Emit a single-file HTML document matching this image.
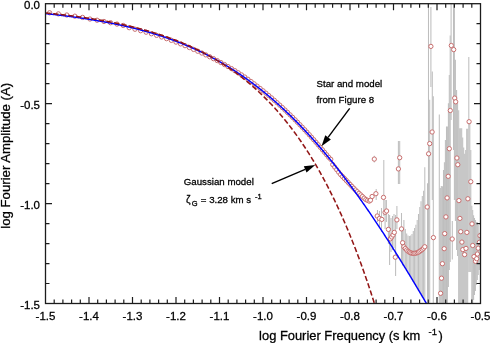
<!DOCTYPE html><html><head><meta charset="utf-8"><style>html,body{margin:0;padding:0;background:#fff;}svg{display:block;will-change:transform;} text{font-family:"Liberation Sans",sans-serif;fill:#000;stroke:#000;stroke-width:0.28px;}</style></head><body>
<svg width="490" height="343" viewBox="0 0 490 343">
<rect width="490" height="343" fill="#fff"/>
<defs><clipPath id="pc"><rect x="45.5" y="3.7" width="435.0" height="299.8"/></clipPath></defs>
<g clip-path="url(#pc)" stroke="#bebebe" stroke-width="1.05">
<line x1="374.3" y1="155.8" x2="374.3" y2="162.6"/>
<line x1="376.2" y1="189.0" x2="376.2" y2="200.0"/>
<line x1="377.5" y1="210.0" x2="377.5" y2="222.0"/>
<line x1="379.5" y1="211.0" x2="379.5" y2="228.0"/>
<line x1="381.5" y1="208.0" x2="381.5" y2="232.0"/>
<line x1="383.8" y1="160.0" x2="383.8" y2="216.0"/>
<line x1="385.1" y1="200.0" x2="385.1" y2="229.0"/>
<line x1="386.4" y1="200.0" x2="386.4" y2="222.0"/>
<line x1="388.4" y1="214.0" x2="388.4" y2="244.0"/>
<line x1="389.6" y1="215.0" x2="389.6" y2="265.0"/>
<line x1="391.0" y1="218.0" x2="391.0" y2="252.0"/>
<line x1="392.5" y1="216.0" x2="392.5" y2="250.0"/>
<line x1="394.0" y1="214.0" x2="394.0" y2="248.0"/>
<line x1="395.6" y1="215.0" x2="395.6" y2="276.0"/>
<line x1="396.9" y1="206.0" x2="396.9" y2="229.0"/>
<line x1="398.4" y1="141.0" x2="398.4" y2="184.0"/>
<line x1="399.7" y1="141.0" x2="399.7" y2="184.0"/>
<line x1="401.5" y1="213.0" x2="401.5" y2="262.0"/>
<line x1="402.6" y1="227.0" x2="402.6" y2="265.5"/>
<line x1="403.9" y1="220.1" x2="403.9" y2="265.8"/>
<line x1="405.3" y1="229.0" x2="405.3" y2="268.1"/>
<line x1="406.7" y1="233.4" x2="406.7" y2="270.3"/>
<line x1="408.0" y1="235.5" x2="408.0" y2="272.5"/>
<line x1="409.4" y1="236.0" x2="409.4" y2="274.8"/>
<line x1="410.7" y1="235.5" x2="410.7" y2="277.0"/>
<line x1="412.0" y1="234.0" x2="412.0" y2="279.2"/>
<line x1="413.3" y1="231.1" x2="413.3" y2="281.4"/>
<line x1="414.6" y1="228.1" x2="414.6" y2="283.5"/>
<line x1="415.9" y1="224.7" x2="415.9" y2="285.7"/>
<line x1="417.2" y1="219.9" x2="417.2" y2="287.9"/>
<line x1="418.5" y1="213.9" x2="418.5" y2="290.0"/>
<line x1="419.8" y1="207.1" x2="419.8" y2="292.2"/>
<line x1="421.0" y1="201.2" x2="421.0" y2="294.3"/>
<line x1="422.3" y1="196.0" x2="422.3" y2="296.5"/>
<line x1="423.6" y1="190.7" x2="423.6" y2="298.6"/>
<line x1="424.8" y1="167.2" x2="424.8" y2="300.7"/>
<line x1="427.5" y1="183.3" x2="427.5" y2="303.5"/>
<line x1="428.5" y1="4.7" x2="428.5" y2="303.5"/>
<line x1="429.7" y1="99.8" x2="429.7" y2="303.5"/>
<line x1="430.9" y1="7.0" x2="430.9" y2="87.0"/>
<line x1="432.3" y1="71.5" x2="432.3" y2="200.0"/>
<line x1="433.3" y1="96.3" x2="433.3" y2="303.5"/>
<line x1="439.3" y1="114.4" x2="439.3" y2="303.5"/>
<line x1="440.3" y1="188.0" x2="440.3" y2="303.5"/>
<line x1="441.3" y1="186.0" x2="441.3" y2="303.5"/>
<line x1="442.4" y1="186.2" x2="442.4" y2="303.5"/>
<line x1="443.5" y1="170.0" x2="443.5" y2="303.5"/>
<line x1="444.4" y1="162.3" x2="444.4" y2="303.5"/>
<line x1="445.4" y1="140.0" x2="445.4" y2="303.5"/>
<line x1="446.5" y1="126.4" x2="446.5" y2="303.5"/>
<line x1="447.4" y1="126.4" x2="447.4" y2="303.5"/>
<line x1="448.4" y1="103.3" x2="448.4" y2="287.0"/>
<line x1="449.3" y1="74.9" x2="449.3" y2="270.0"/>
<line x1="450.2" y1="35.5" x2="450.2" y2="262.0"/>
<line x1="451.1" y1="4.0" x2="451.1" y2="120.0"/>
<line x1="452.3" y1="221.0" x2="452.3" y2="259.6"/>
<line x1="453.5" y1="4.0" x2="453.5" y2="150.0"/>
<line x1="454.4" y1="4.0" x2="454.4" y2="200.0"/>
<line x1="455.4" y1="59.8" x2="455.4" y2="221.0"/>
<line x1="456.6" y1="89.9" x2="456.6" y2="250.0"/>
<line x1="457.6" y1="103.3" x2="457.6" y2="256.0"/>
<line x1="458.7" y1="110.3" x2="458.7" y2="303.5"/>
<line x1="459.7" y1="128.2" x2="459.7" y2="303.5"/>
<line x1="460.7" y1="128.2" x2="460.7" y2="303.5"/>
<line x1="461.7" y1="128.2" x2="461.7" y2="303.5"/>
<line x1="462.7" y1="137.5" x2="462.7" y2="303.5"/>
<line x1="463.7" y1="147.4" x2="463.7" y2="303.5"/>
<line x1="464.7" y1="153.8" x2="464.7" y2="303.5"/>
<line x1="465.7" y1="150.0" x2="465.7" y2="303.5"/>
<line x1="466.7" y1="128.7" x2="466.7" y2="303.5"/>
<line x1="467.7" y1="128.7" x2="467.7" y2="303.5"/>
<line x1="468.8" y1="56.9" x2="468.8" y2="272.0"/>
<line x1="469.8" y1="120.0" x2="469.8" y2="272.0"/>
<line x1="470.8" y1="150.0" x2="470.8" y2="272.0"/>
<line x1="471.8" y1="205.8" x2="471.8" y2="303.5"/>
<line x1="472.7" y1="210.0" x2="472.7" y2="303.5"/>
<line x1="473.6" y1="215.2" x2="473.6" y2="300.0"/>
<line x1="474.5" y1="218.0" x2="474.5" y2="295.0"/>
<line x1="475.4" y1="220.0" x2="475.4" y2="291.0"/>
<line x1="476.3" y1="222.0" x2="476.3" y2="285.0"/>
<line x1="477.3" y1="222.0" x2="477.3" y2="280.0"/>
<line x1="478.2" y1="225.0" x2="478.2" y2="275.0"/>
<line x1="479.1" y1="232.7" x2="479.1" y2="270.0"/>
</g>
<g clip-path="url(#pc)" fill="#fff" stroke="#c86f6f" stroke-width="1.0">
<circle cx="49.61" cy="12.78" r="2.15"/>
<circle cx="58.40" cy="13.88" r="2.15"/>
<circle cx="66.80" cy="15.01" r="2.15"/>
<circle cx="74.84" cy="16.18" r="2.15"/>
<circle cx="82.55" cy="17.40" r="2.15"/>
<circle cx="89.96" cy="19.01" r="2.15"/>
<circle cx="97.09" cy="20.22" r="2.15"/>
<circle cx="103.96" cy="21.47" r="2.15"/>
<circle cx="110.59" cy="22.75" r="2.15"/>
<circle cx="117.00" cy="24.06" r="2.15"/>
<circle cx="123.19" cy="25.45" r="2.15"/>
<circle cx="129.19" cy="27.68" r="2.15"/>
<circle cx="135.00" cy="29.23" r="2.15"/>
<circle cx="140.64" cy="30.70" r="2.15"/>
<circle cx="146.12" cy="32.21" r="2.15"/>
<circle cx="151.44" cy="33.77" r="2.15"/>
<circle cx="156.62" cy="35.36" r="2.15"/>
<circle cx="161.65" cy="36.99" r="2.15"/>
<circle cx="166.56" cy="38.65" r="2.15"/>
<circle cx="171.34" cy="40.36" r="2.15"/>
<circle cx="176.01" cy="42.10" r="2.15"/>
<circle cx="180.56" cy="43.88" r="2.15"/>
<circle cx="185.01" cy="45.69" r="2.15"/>
<circle cx="189.35" cy="47.54" r="2.15"/>
<circle cx="193.60" cy="49.42" r="2.15"/>
<circle cx="197.75" cy="51.24" r="2.15"/>
<circle cx="201.81" cy="53.05" r="2.15"/>
<circle cx="205.79" cy="54.89" r="2.15"/>
<circle cx="209.68" cy="56.76" r="2.15"/>
<circle cx="213.50" cy="58.67" r="2.15"/>
<circle cx="217.24" cy="60.60" r="2.15"/>
<circle cx="220.91" cy="62.57" r="2.15"/>
<circle cx="224.51" cy="64.56" r="2.15"/>
<circle cx="228.04" cy="66.58" r="2.15"/>
<circle cx="231.51" cy="68.62" r="2.15"/>
<circle cx="234.91" cy="70.69" r="2.15"/>
<circle cx="238.25" cy="72.79" r="2.15"/>
<circle cx="241.54" cy="74.90" r="2.15"/>
<circle cx="244.77" cy="77.04" r="2.15"/>
<circle cx="247.94" cy="79.29" r="2.15"/>
<circle cx="251.07" cy="81.57" r="2.15"/>
<circle cx="254.14" cy="83.86" r="2.15"/>
<circle cx="257.16" cy="86.17" r="2.15"/>
<circle cx="260.14" cy="88.50" r="2.15"/>
<circle cx="263.07" cy="90.84" r="2.15"/>
<circle cx="265.95" cy="93.19" r="2.15"/>
<circle cx="268.79" cy="95.56" r="2.15"/>
<circle cx="271.59" cy="97.94" r="2.15"/>
<circle cx="274.35" cy="100.34" r="2.15"/>
<circle cx="277.07" cy="102.74" r="2.15"/>
<circle cx="279.75" cy="105.15" r="2.15"/>
<circle cx="282.39" cy="107.58" r="2.15"/>
<circle cx="284.99" cy="110.01" r="2.15"/>
<circle cx="287.56" cy="112.45" r="2.15"/>
<circle cx="290.10" cy="114.90" r="2.15"/>
<circle cx="292.60" cy="117.35" r="2.15"/>
<circle cx="295.07" cy="119.82" r="2.15"/>
<circle cx="297.51" cy="122.29" r="2.15"/>
<circle cx="299.92" cy="124.76" r="2.15"/>
<circle cx="302.29" cy="127.25" r="2.15"/>
<circle cx="304.64" cy="129.75" r="2.15"/>
<circle cx="306.96" cy="132.24" r="2.15"/>
<circle cx="309.25" cy="134.75" r="2.15"/>
<circle cx="311.51" cy="137.25" r="2.15"/>
<circle cx="313.75" cy="139.76" r="2.15"/>
<circle cx="315.96" cy="142.27" r="2.15"/>
<circle cx="318.14" cy="144.78" r="2.15"/>
<circle cx="320.30" cy="147.29" r="2.15"/>
<circle cx="322.43" cy="149.80" r="2.15"/>
<circle cx="324.54" cy="152.32" r="2.15"/>
<circle cx="326.63" cy="154.83" r="2.15"/>
<circle cx="328.70" cy="157.34" r="2.15"/>
<circle cx="330.74" cy="159.30" r="2.15"/>
<circle cx="332.76" cy="164.57" r="2.15"/>
<circle cx="334.76" cy="167.14" r="2.15"/>
<circle cx="336.74" cy="169.69" r="2.15"/>
<circle cx="338.69" cy="172.22" r="2.15"/>
<circle cx="340.63" cy="174.56" r="2.15"/>
<circle cx="342.55" cy="176.57" r="2.15"/>
<circle cx="344.45" cy="178.56" r="2.15"/>
<circle cx="346.33" cy="180.53" r="2.15"/>
<circle cx="348.19" cy="182.48" r="2.15"/>
<circle cx="350.03" cy="184.41" r="2.15"/>
<circle cx="351.86" cy="186.33" r="2.15"/>
<circle cx="353.67" cy="188.22" r="2.15"/>
<circle cx="355.46" cy="190.00" r="2.15"/>
<circle cx="357.23" cy="191.66" r="2.15"/>
<circle cx="358.99" cy="193.31" r="2.15"/>
<circle cx="360.73" cy="194.94" r="2.15"/>
<circle cx="362.45" cy="196.55" r="2.15"/>
<circle cx="364.16" cy="198.15" r="2.15"/>
<circle cx="365.86" cy="199.56" r="2.15"/>
<circle cx="367.54" cy="200.34" r="2.15"/>
<circle cx="369.20" cy="201.10" r="2.15"/>
<circle cx="370.50" cy="200.20" r="2.15"/>
<circle cx="372.10" cy="196.50" r="2.15"/>
<circle cx="374.30" cy="159.10" r="2.15"/>
<circle cx="375.90" cy="193.70" r="2.15"/>
<circle cx="377.20" cy="216.00" r="2.15"/>
<circle cx="379.40" cy="218.50" r="2.15"/>
<circle cx="381.80" cy="219.40" r="2.15"/>
<circle cx="383.50" cy="197.40" r="2.15"/>
<circle cx="385.10" cy="212.30" r="2.15"/>
<circle cx="386.60" cy="211.00" r="2.15"/>
<circle cx="388.40" cy="229.40" r="2.15"/>
<circle cx="390.40" cy="238.80" r="2.15"/>
<circle cx="391.70" cy="237.00" r="2.15"/>
<circle cx="393.00" cy="235.00" r="2.15"/>
<circle cx="394.30" cy="232.40" r="2.15"/>
<circle cx="395.30" cy="257.20" r="2.15"/>
<circle cx="396.90" cy="219.90" r="2.15"/>
<circle cx="398.40" cy="168.90" r="2.15"/>
<circle cx="399.70" cy="157.70" r="2.15"/>
<circle cx="401.50" cy="228.90" r="2.15"/>
<circle cx="402.60" cy="242.70" r="2.15"/>
<circle cx="403.92" cy="246.80" r="2.15"/>
<circle cx="405.30" cy="248.55" r="2.15"/>
<circle cx="406.66" cy="250.03" r="2.15"/>
<circle cx="408.01" cy="251.23" r="2.15"/>
<circle cx="409.36" cy="252.17" r="2.15"/>
<circle cx="410.69" cy="252.83" r="2.15"/>
<circle cx="412.02" cy="253.24" r="2.15"/>
<circle cx="413.34" cy="253.40" r="2.15"/>
<circle cx="414.64" cy="253.33" r="2.15"/>
<circle cx="415.94" cy="253.09" r="2.15"/>
<circle cx="417.23" cy="252.68" r="2.15"/>
<circle cx="418.51" cy="252.09" r="2.15"/>
<circle cx="419.78" cy="251.35" r="2.15"/>
<circle cx="421.05" cy="250.44" r="2.15"/>
<circle cx="422.30" cy="249.37" r="2.15"/>
<circle cx="423.55" cy="248.15" r="2.15"/>
<circle cx="424.79" cy="246.77" r="2.15"/>
<circle cx="427.20" cy="207.00" r="2.15"/>
<circle cx="428.60" cy="153.80" r="2.15"/>
<circle cx="429.70" cy="143.60" r="2.15"/>
<circle cx="430.90" cy="46.40" r="2.15"/>
<circle cx="432.10" cy="132.00" r="2.15"/>
<circle cx="433.40" cy="237.60" r="2.15"/>
<circle cx="440.60" cy="293.30" r="2.15"/>
<circle cx="441.50" cy="278.20" r="2.15"/>
<circle cx="442.40" cy="263.70" r="2.15"/>
<circle cx="444.20" cy="248.70" r="2.15"/>
<circle cx="444.70" cy="233.60" r="2.15"/>
<circle cx="445.90" cy="216.90" r="2.15"/>
<circle cx="447.10" cy="197.90" r="2.15"/>
<circle cx="448.20" cy="176.30" r="2.15"/>
<circle cx="449.30" cy="148.70" r="2.15"/>
<circle cx="450.30" cy="110.50" r="2.15"/>
<circle cx="451.30" cy="45.50" r="2.15"/>
<circle cx="452.20" cy="239.00" r="2.15"/>
<circle cx="453.70" cy="49.60" r="2.15"/>
<circle cx="454.70" cy="98.10" r="2.15"/>
<circle cx="455.70" cy="101.80" r="2.15"/>
<circle cx="456.90" cy="158.00" r="2.15"/>
<circle cx="457.80" cy="164.70" r="2.15"/>
<circle cx="458.90" cy="200.60" r="2.15"/>
<circle cx="459.90" cy="218.40" r="2.15"/>
<circle cx="460.70" cy="231.70" r="2.15"/>
<circle cx="461.90" cy="242.10" r="2.15"/>
<circle cx="462.80" cy="249.60" r="2.15"/>
<circle cx="464.60" cy="254.60" r="2.15"/>
<circle cx="466.00" cy="248.40" r="2.15"/>
<circle cx="466.90" cy="232.40" r="2.15"/>
<circle cx="467.90" cy="198.80" r="2.15"/>
<circle cx="469.10" cy="121.70" r="2.15"/>
<circle cx="470.80" cy="181.70" r="2.15"/>
<circle cx="472.00" cy="223.90" r="2.15"/>
<circle cx="472.70" cy="245.50" r="2.15"/>
<circle cx="474.00" cy="256.60" r="2.15"/>
<circle cx="475.50" cy="261.30" r="2.15"/>
<circle cx="476.70" cy="258.70" r="2.15"/>
<circle cx="477.40" cy="254.00" r="2.15"/>
<circle cx="478.20" cy="248.20" r="2.15"/>
<circle cx="479.40" cy="242.30" r="2.15"/>
<circle cx="480.00" cy="235.70" r="2.15"/>
</g>
<path clip-path="url(#pc)" d="M45.50,13.60 L46.00,13.65 L46.50,13.70 L47.00,13.75 L47.50,13.81 L48.00,13.86 L48.50,13.91 L49.00,13.97 L49.50,14.02 L50.00,14.08 L50.50,14.13 L51.00,14.19 L51.50,14.24 L52.00,14.30 L52.50,14.35 L53.00,14.41 L53.50,14.47 L54.00,14.52 L54.50,14.58 L55.00,14.64 L55.50,14.70 L56.00,14.75 L56.50,14.81 L57.00,14.87 L57.50,14.93 L58.00,14.99 L58.50,15.05 L59.00,15.11 L59.50,15.17 L60.00,15.23 L60.50,15.29 L61.00,15.35 L61.50,15.41 L62.00,15.47 L62.50,15.53 L63.00,15.60 L63.50,15.66 L64.00,15.72 L64.50,15.78 L65.00,15.85 L65.50,15.91 L66.00,15.97 L66.50,16.04 L67.00,16.10 L67.50,16.17 L68.00,16.23 L68.50,16.30 L69.00,16.36 L69.50,16.43 L70.00,16.50 L70.50,16.56 L71.00,16.63 L71.50,16.70 L72.00,16.76 L72.50,16.83 L73.00,16.90 L73.50,16.97 L74.00,17.04 L74.50,17.11 L75.00,17.18 L75.50,17.25 L76.00,17.32 L76.50,17.39 L77.00,17.46 L77.50,17.53 L78.00,17.60 L78.50,17.67 L79.00,17.74 L79.50,17.82 L80.00,17.89 L80.50,17.96 L81.00,18.04 L81.50,18.11 L82.00,18.19 L82.50,18.26 L83.00,18.33 L83.50,18.41 L84.00,18.49 L84.50,18.56 L85.00,18.64 L85.50,18.72 L86.00,18.79 L86.50,18.87 L87.00,18.95 L87.50,19.03 L88.00,19.10 L88.50,19.18 L89.00,19.26 L89.50,19.34 L90.00,19.42 L90.50,19.50 L91.00,19.58 L91.50,19.67 L92.00,19.75 L92.50,19.83 L93.00,19.91 L93.50,19.99 L94.00,20.08 L94.50,20.16 L95.00,20.25 L95.50,20.33 L96.00,20.42 L96.50,20.50 L97.00,20.59 L97.50,20.67 L98.00,20.76 L98.50,20.85 L99.00,20.93 L99.50,21.02 L100.00,21.11 L100.50,21.20 L101.00,21.29 L101.50,21.38 L102.00,21.47 L102.50,21.56 L103.00,21.65 L103.50,21.74 L104.00,21.83 L104.50,21.92 L105.00,22.02 L105.50,22.11 L106.00,22.20 L106.50,22.30 L107.00,22.39 L107.50,22.49 L108.00,22.58 L108.50,22.68 L109.00,22.77 L109.50,22.87 L110.00,22.97 L110.50,23.07 L111.00,23.16 L111.50,23.26 L112.00,23.36 L112.50,23.46 L113.00,23.56 L113.50,23.66 L114.00,23.76 L114.50,23.87 L115.00,23.97 L115.50,24.07 L116.00,24.17 L116.50,24.28 L117.00,24.38 L117.50,24.49 L118.00,24.59 L118.50,24.70 L119.00,24.81 L119.50,24.91 L120.00,25.02 L120.50,25.13 L121.00,25.24 L121.50,25.35 L122.00,25.46 L122.50,25.57 L123.00,25.68 L123.50,25.79 L124.00,25.90 L124.50,26.01 L125.00,26.13 L125.50,26.24 L126.00,26.35 L126.50,26.47 L127.00,26.58 L127.50,26.70 L128.00,26.82 L128.50,26.93 L129.00,27.05 L129.50,27.17 L130.00,27.29 L130.50,27.41 L131.00,27.53 L131.50,27.65 L132.00,27.77 L132.50,27.89 L133.00,28.02 L133.50,28.14 L134.00,28.26 L134.50,28.39 L135.00,28.51 L135.50,28.64 L136.00,28.76 L136.50,28.89 L137.00,29.02 L137.50,29.15 L138.00,29.28 L138.50,29.41 L139.00,29.54 L139.50,29.67 L140.00,29.80 L140.50,29.93 L141.00,30.06 L141.50,30.20 L142.00,30.33 L142.50,30.47 L143.00,30.60 L143.50,30.74 L144.00,30.88 L144.50,31.01 L145.00,31.15 L145.50,31.29 L146.00,31.43 L146.50,31.57 L147.00,31.71 L147.50,31.86 L148.00,32.00 L148.50,32.14 L149.00,32.29 L149.50,32.43 L150.00,32.58 L150.50,32.72 L151.00,32.87 L151.50,33.02 L152.00,33.17 L152.50,33.32 L153.00,33.47 L153.50,33.62 L154.00,33.77 L154.50,33.92 L155.00,34.08 L155.50,34.23 L156.00,34.38 L156.50,34.54 L157.00,34.70 L157.50,34.85 L158.00,35.01 L158.50,35.17 L159.00,35.33 L159.50,35.49 L160.00,35.65 L160.50,35.81 L161.00,35.98 L161.50,36.14 L162.00,36.30 L162.50,36.47 L163.00,36.63 L163.50,36.80 L164.00,36.97 L164.50,37.14 L165.00,37.31 L165.50,37.48 L166.00,37.65 L166.50,37.82 L167.00,37.99 L167.50,38.17 L168.00,38.34 L168.50,38.52 L169.00,38.69 L169.50,38.87 L170.00,39.05 L170.50,39.23 L171.00,39.41 L171.50,39.59 L172.00,39.77 L172.50,39.95 L173.00,40.14 L173.50,40.32 L174.00,40.51 L174.50,40.69 L175.00,40.88 L175.50,41.07 L176.00,41.26 L176.50,41.45 L177.00,41.64 L177.50,41.83 L178.00,42.02 L178.50,42.21 L179.00,42.41 L179.50,42.60 L180.00,42.80 L180.50,43.00 L181.00,43.20 L181.50,43.40 L182.00,43.60 L182.50,43.80 L183.00,44.00 L183.50,44.20 L184.00,44.41 L184.50,44.61 L185.00,44.82 L185.50,45.02 L186.00,45.23 L186.50,45.44 L187.00,45.65 L187.50,45.86 L188.00,46.08 L188.50,46.29 L189.00,46.50 L189.50,46.72 L190.00,46.93 L190.50,47.15 L191.00,47.37 L191.50,47.59 L192.00,47.81 L192.50,48.03 L193.00,48.25 L193.50,48.48 L194.00,48.70 L194.50,48.93 L195.00,49.15 L195.50,49.38 L196.00,49.61 L196.50,49.84 L197.00,50.07 L197.50,50.30 L198.00,50.54 L198.50,50.77 L199.00,51.01 L199.50,51.24 L200.00,51.48 L200.50,51.72 L201.00,51.96 L201.50,52.20 L202.00,52.44 L202.50,52.69 L203.00,52.93 L203.50,53.17 L204.00,53.42 L204.50,53.67 L205.00,53.92 L205.50,54.17 L206.00,54.42 L206.50,54.67 L207.00,54.92 L207.50,55.18 L208.00,55.43 L208.50,55.69 L209.00,55.95 L209.50,56.21 L210.00,56.47 L210.50,56.73 L211.00,56.99 L211.50,57.26 L212.00,57.52 L212.50,57.79 L213.00,58.05 L213.50,58.32 L214.00,58.59 L214.50,58.86 L215.00,59.14 L215.50,59.41 L216.00,59.68 L216.50,59.96 L217.00,60.24 L217.50,60.52 L218.00,60.79 L218.50,61.08 L219.00,61.36 L219.50,61.64 L220.00,61.92 L220.50,62.21 L221.00,62.50 L221.50,62.79 L222.00,63.07 L222.50,63.37 L223.00,63.66 L223.50,63.95 L224.00,64.24 L224.50,64.54 L225.00,64.84 L225.50,65.14 L226.00,65.44 L226.50,65.74 L227.00,66.04 L227.50,66.34 L228.00,66.65 L228.50,66.95 L229.00,67.26 L229.50,67.57 L230.00,67.88 L230.50,68.19 L231.00,68.50 L231.50,68.82 L232.00,69.13 L232.50,69.45 L233.00,69.76 L233.50,70.08 L234.00,70.40 L234.50,70.73 L235.00,71.05 L235.50,71.37 L236.00,71.70 L236.50,72.03 L237.00,72.35 L237.50,72.68 L238.00,73.01 L238.50,73.35 L239.00,73.68 L239.50,74.02 L240.00,74.35 L240.50,74.69 L241.00,75.03 L241.50,75.37 L242.00,75.71 L242.50,76.06 L243.00,76.40 L243.50,76.75 L244.00,77.09 L244.50,77.44 L245.00,77.79 L245.50,78.15 L246.00,78.50 L246.50,78.85 L247.00,79.21 L247.50,79.57 L248.00,79.92 L248.50,80.29 L249.00,80.65 L249.50,81.01 L250.00,81.37 L250.50,81.74 L251.00,82.11 L251.50,82.48 L252.00,82.85 L252.50,83.22 L253.00,83.59 L253.50,83.96 L254.00,84.34 L254.50,84.72 L255.00,85.10 L255.50,85.48 L256.00,85.86 L256.50,86.24 L257.00,86.63 L257.50,87.01 L258.00,87.40 L258.50,87.79 L259.00,88.18 L259.50,88.57 L260.00,88.96 L260.50,89.36 L261.00,89.75 L261.50,90.15 L262.00,90.55 L262.50,90.95 L263.00,91.35 L263.50,91.76 L264.00,92.16 L264.50,92.57 L265.00,92.98 L265.50,93.39 L266.00,93.80 L266.50,94.21 L267.00,94.62 L267.50,95.04 L268.00,95.46 L268.50,95.87 L269.00,96.29 L269.50,96.72 L270.00,97.14 L270.50,97.56 L271.00,97.99 L271.50,98.42 L272.00,98.85 L272.50,99.28 L273.00,99.71 L273.50,100.14 L274.00,100.58 L274.50,101.01 L275.00,101.45 L275.50,101.89 L276.00,102.33 L276.50,102.78 L277.00,103.22 L277.50,103.67 L278.00,104.11 L278.50,104.56 L279.00,105.01 L279.50,105.47 L280.00,105.92 L280.50,106.38 L281.00,106.83 L281.50,107.29 L282.00,107.75 L282.50,108.21 L283.00,108.67 L283.50,109.14 L284.00,109.60 L284.50,110.07 L285.00,110.54 L285.50,111.01 L286.00,111.48 L286.50,111.96 L287.00,112.43 L287.50,112.91 L288.00,113.39 L288.50,113.87 L289.00,114.35 L289.50,114.83 L290.00,115.32 L290.50,115.81 L291.00,116.29 L291.50,116.78 L292.00,117.27 L292.50,117.77 L293.00,118.26 L293.50,118.76 L294.00,119.25 L294.50,119.75 L295.00,120.25 L295.50,120.76 L296.00,121.26 L296.50,121.77 L297.00,122.27 L297.50,122.78 L298.00,123.29 L298.50,123.80 L299.00,124.32 L299.50,124.83 L300.00,125.35 L300.50,125.86 L301.00,126.38 L301.50,126.91 L302.00,127.43 L302.50,127.95 L303.00,128.48 L303.50,129.01 L304.00,129.54 L304.50,130.07 L305.00,130.60 L305.50,131.13 L306.00,131.67 L306.50,132.21 L307.00,132.74 L307.50,133.28 L308.00,133.83 L308.50,134.37 L309.00,134.92 L309.50,135.46 L310.00,136.01 L310.50,136.56 L311.00,137.11 L311.50,137.66 L312.00,138.22 L312.50,138.78 L313.00,139.33 L313.50,139.89 L314.00,140.45 L314.50,141.02 L315.00,141.58 L315.50,142.15 L316.00,142.71 L316.50,143.28 L317.00,143.85 L317.50,144.43 L318.00,145.00 L318.50,145.58 L319.00,146.15 L319.50,146.73 L320.00,147.31 L320.50,147.89 L321.00,148.48 L321.50,149.06 L322.00,149.65 L322.50,150.24 L323.00,150.83 L323.50,151.42 L324.00,152.01 L324.50,152.61 L325.00,153.20 L325.50,153.80 L326.00,154.40 L326.50,155.00 L327.00,155.60 L327.50,156.21 L328.00,156.81 L328.50,157.42 L329.00,158.03 L329.50,158.64 L330.00,159.25 L330.50,159.86 L331.00,160.48 L331.50,161.10 L332.00,161.71 L332.50,162.33 L333.00,162.96 L333.50,163.58 L334.00,164.20 L334.50,164.83 L335.00,165.46 L335.50,166.09 L336.00,166.72 L336.50,167.35 L337.00,167.98 L337.50,168.62 L338.00,169.26 L338.50,169.89 L339.00,170.53 L339.50,171.18 L340.00,171.82 L340.50,172.46 L341.00,173.11 L341.50,173.76 L342.00,174.41 L342.50,175.06 L343.00,175.71 L343.50,176.37 L344.00,177.02 L344.50,177.68 L345.00,178.34 L345.50,179.00 L346.00,179.66 L346.50,180.32 L347.00,180.99 L347.50,181.65 L348.00,182.32 L348.50,182.99 L349.00,183.66 L349.50,184.33 L350.00,185.01 L350.50,185.68 L351.00,186.36 L351.50,187.04 L352.00,187.72 L352.50,188.40 L353.00,189.08 L353.50,189.77 L354.00,190.45 L354.50,191.14 L355.00,191.83 L355.50,192.52 L356.00,193.21 L356.50,193.91 L357.00,194.60 L357.50,195.30 L358.00,195.99 L358.50,196.69 L359.00,197.39 L359.50,198.10 L360.00,198.80 L360.50,199.51 L361.00,200.21 L361.50,200.92 L362.00,201.63 L362.50,202.34 L363.00,203.05 L363.50,203.77 L364.00,204.48 L364.50,205.20 L365.00,205.92 L365.50,206.64 L366.00,207.36 L366.50,208.08 L367.00,208.80 L367.50,209.53 L368.00,210.25 L368.50,210.98 L369.00,211.71 L369.50,212.44 L370.00,213.17 L370.50,213.91 L371.00,214.64 L371.50,215.38 L372.00,216.12 L372.50,216.85 L373.00,217.59 L373.50,218.34 L374.00,219.08 L374.50,219.82 L375.00,220.57 L375.50,221.32 L376.00,222.07 L376.50,222.81 L377.00,223.57 L377.50,224.32 L378.00,225.07 L378.50,225.83 L379.00,226.58 L379.50,227.34 L380.00,228.10 L380.50,228.86 L381.00,229.62 L381.50,230.38 L382.00,231.15 L382.50,231.91 L383.00,232.68 L383.50,233.45 L384.00,234.22 L384.50,234.99 L385.00,235.76 L385.50,236.53 L386.00,237.31 L386.50,238.08 L387.00,238.86 L387.50,239.64 L388.00,240.42 L388.50,241.20 L389.00,241.98 L389.50,242.76 L390.00,243.55 L390.50,244.33 L391.00,245.12 L391.50,245.90 L392.00,246.69 L392.50,247.48 L393.00,248.27 L393.50,249.07 L394.00,249.86 L394.50,250.65 L395.00,251.45 L395.50,252.25 L396.00,253.04 L396.50,253.84 L397.00,254.64 L397.50,255.45 L398.00,256.25 L398.50,257.05 L399.00,257.86 L399.50,258.66 L400.00,259.47 L400.50,260.28 L401.00,261.09 L401.50,261.90 L402.00,262.71 L402.50,263.52 L403.00,264.33 L403.50,265.15 L404.00,265.96 L404.50,266.78 L405.00,267.59 L405.50,268.41 L406.00,269.23 L406.50,270.05 L407.00,270.87 L407.50,271.70 L408.00,272.52 L408.50,273.34 L409.00,274.17 L409.50,274.99 L410.00,275.82 L410.50,276.65 L411.00,277.48 L411.50,278.31 L412.00,279.14 L412.50,279.97 L413.00,280.80 L413.50,281.64 L414.00,282.47 L414.50,283.31 L415.00,284.14 L415.50,284.98 L416.00,285.82 L416.50,286.66 L417.00,287.50 L417.50,288.34 L418.00,289.18 L418.50,290.02 L419.00,290.86 L419.50,291.71 L420.00,292.55 L420.50,293.40 L421.00,294.24 L421.50,295.09 L422.00,295.94 L422.50,296.78 L423.00,297.63 L423.50,298.48 L424.00,299.33 L424.50,300.18 L425.00,301.04 L425.50,301.89 L426.00,302.74 L426.44,303.50" fill="none" stroke="#0000ff" stroke-width="1.45"/>
<path clip-path="url(#pc)" d="M45.50,12.92 L46.00,12.97 L46.50,13.01 L47.00,13.06 L47.50,13.11 L48.00,13.16 L48.50,13.21 L49.00,13.26 L49.50,13.32 L50.00,13.37 L50.50,13.42 L51.00,13.47 L51.50,13.52 L52.00,13.57 L52.50,13.63 L53.00,13.68 L53.50,13.73 L54.00,13.78 L54.50,13.84 L55.00,13.89 L55.50,13.95 L56.00,14.00 L56.50,14.05 L57.00,14.11 L57.50,14.17 L58.00,14.22 L58.50,14.28 L59.00,14.33 L59.50,14.39 L60.00,14.45 L60.50,14.50 L61.00,14.56 L61.50,14.62 L62.00,14.68 L62.50,14.73 L63.00,14.79 L63.50,14.85 L64.00,14.91 L64.50,14.97 L65.00,15.03 L65.50,15.09 L66.00,15.15 L66.50,15.21 L67.00,15.27 L67.50,15.33 L68.00,15.40 L68.50,15.46 L69.00,15.52 L69.50,15.58 L70.00,15.65 L70.50,15.71 L71.00,15.77 L71.50,15.84 L72.00,15.90 L72.50,15.97 L73.00,16.03 L73.50,16.10 L74.00,16.16 L74.50,16.23 L75.00,16.30 L75.50,16.36 L76.00,16.43 L76.50,16.50 L77.00,16.56 L77.50,16.63 L78.00,16.70 L78.50,16.77 L79.00,16.84 L79.50,16.91 L80.00,16.98 L80.50,17.05 L81.00,17.12 L81.50,17.19 L82.00,17.26 L82.50,17.34 L83.00,17.41 L83.50,17.48 L84.00,17.55 L84.50,17.63 L85.00,17.70 L85.50,17.78 L86.00,17.85 L86.50,17.93 L87.00,18.00 L87.50,18.08 L88.00,18.15 L88.50,18.23 L89.00,18.31 L89.50,18.38 L90.00,18.46 L90.50,18.54 L91.00,18.62 L91.50,18.70 L92.00,18.78 L92.50,18.86 L93.00,18.94 L93.50,19.02 L94.00,19.10 L94.50,19.18 L95.00,19.27 L95.50,19.35 L96.00,19.43 L96.50,19.51 L97.00,19.60 L97.50,19.68 L98.00,19.77 L98.50,19.85 L99.00,19.94 L99.50,20.02 L100.00,20.11 L100.50,20.20 L101.00,20.29 L101.50,20.37 L102.00,20.46 L102.50,20.55 L103.00,20.64 L103.50,20.73 L104.00,20.82 L104.50,20.91 L105.00,21.00 L105.50,21.10 L106.00,21.19 L106.50,21.28 L107.00,21.37 L107.50,21.47 L108.00,21.56 L108.50,21.66 L109.00,21.75 L109.50,21.85 L110.00,21.94 L110.50,22.04 L111.00,22.14 L111.50,22.24 L112.00,22.33 L112.50,22.43 L113.00,22.53 L113.50,22.63 L114.00,22.73 L114.50,22.83 L115.00,22.94 L115.50,23.04 L116.00,23.14 L116.50,23.24 L117.00,23.35 L117.50,23.45 L118.00,23.56 L118.50,23.66 L119.00,23.77 L119.50,23.87 L120.00,23.98 L120.50,24.09 L121.00,24.20 L121.50,24.31 L122.00,24.42 L122.50,24.53 L123.00,24.64 L123.50,24.75 L124.00,24.86 L124.50,24.97 L125.00,25.08 L125.50,25.20 L126.00,25.31 L126.50,25.43 L127.00,25.54 L127.50,25.66 L128.00,25.77 L128.50,25.89 L129.00,26.01 L129.50,26.13 L130.00,26.25 L130.50,26.37 L131.00,26.49 L131.50,26.61 L132.00,26.73 L132.50,26.85 L133.00,26.97 L133.50,27.10 L134.00,27.22 L134.50,27.35 L135.00,27.47 L135.50,27.60 L136.00,27.73 L136.50,27.85 L137.00,27.98 L137.50,28.11 L138.00,28.24 L138.50,28.37 L139.00,28.50 L139.50,28.63 L140.00,28.76 L140.50,28.90 L141.00,29.03 L141.50,29.17 L142.00,29.30 L142.50,29.44 L143.00,29.57 L143.50,29.71 L144.00,29.85 L144.50,29.99 L145.00,30.13 L145.50,30.27 L146.00,30.41 L146.50,30.55 L147.00,30.69 L147.50,30.84 L148.00,30.98 L148.50,31.12 L149.00,31.27 L149.50,31.42 L150.00,31.56 L150.50,31.71 L151.00,31.86 L151.50,32.01 L152.00,32.16 L152.50,32.31 L153.00,32.46 L153.50,32.62 L154.00,32.77 L154.50,32.92 L155.00,33.08 L155.50,33.23 L156.00,33.39 L156.50,33.55 L157.00,33.71 L157.50,33.87 L158.00,34.03 L158.50,34.19 L159.00,34.35 L159.50,34.51 L160.00,34.67 L160.50,34.84 L161.00,35.00 L161.50,35.17 L162.00,35.34 L162.50,35.51 L163.00,35.67 L163.50,35.84 L164.00,36.01 L164.50,36.19 L165.00,36.36 L165.50,36.53 L166.00,36.71 L166.50,36.88 L167.00,37.06 L167.50,37.23 L168.00,37.41 L168.50,37.59 L169.00,37.77 L169.50,37.95 L170.00,38.13 L170.50,38.32 L171.00,38.50 L171.50,38.69 L172.00,38.87 L172.50,39.06 L173.00,39.25 L173.50,39.43 L174.00,39.62 L174.50,39.81 L175.00,40.01 L175.50,40.20 L176.00,40.39 L176.50,40.59 L177.00,40.78 L177.50,40.98 L178.00,41.18 L178.50,41.38 L179.00,41.58 L179.50,41.78 L180.00,41.98 L180.50,42.18 L181.00,42.39 L181.50,42.59 L182.00,42.80 L182.50,43.01 L183.00,43.21 L183.50,43.42 L184.00,43.64 L184.50,43.85 L185.00,44.06 L185.50,44.27 L186.00,44.49 L186.50,44.71 L187.00,44.92 L187.50,45.14 L188.00,45.36 L188.50,45.58 L189.00,45.81 L189.50,46.03 L190.00,46.25 L190.50,46.48 L191.00,46.71 L191.50,46.94 L192.00,47.16 L192.50,47.40 L193.00,47.63 L193.50,47.86 L194.00,48.09 L194.50,48.33 L195.00,48.57 L195.50,48.81 L196.00,49.04 L196.50,49.29 L197.00,49.53 L197.50,49.77 L198.00,50.01 L198.50,50.26 L199.00,50.51 L199.50,50.76 L200.00,51.01 L200.50,51.26 L201.00,51.51 L201.50,51.76 L202.00,52.02 L202.50,52.27 L203.00,52.53 L203.50,52.79 L204.00,53.05 L204.50,53.31 L205.00,53.58 L205.50,53.84 L206.00,54.11 L206.50,54.38 L207.00,54.64 L207.50,54.92 L208.00,55.19 L208.50,55.46 L209.00,55.74 L209.50,56.01 L210.00,56.29 L210.50,56.57 L211.00,56.85 L211.50,57.13 L212.00,57.41 L212.50,57.70 L213.00,57.99 L213.50,58.27 L214.00,58.56 L214.50,58.85 L215.00,59.15 L215.50,59.44 L216.00,59.74 L216.50,60.04 L217.00,60.33 L217.50,60.63 L218.00,60.94 L218.50,61.24 L219.00,61.55 L219.50,61.85 L220.00,62.16 L220.50,62.47 L221.00,62.78 L221.50,63.10 L222.00,63.41 L222.50,63.73 L223.00,64.05 L223.50,64.37 L224.00,64.69 L224.50,65.01 L225.00,65.34 L225.50,65.67 L226.00,66.00 L226.50,66.33 L227.00,66.66 L227.50,66.99 L228.00,67.33 L228.50,67.67 L229.00,68.01 L229.50,68.35 L230.00,68.69 L230.50,69.04 L231.00,69.38 L231.50,69.73 L232.00,70.08 L232.50,70.43 L233.00,70.79 L233.50,71.14 L234.00,71.50 L234.50,71.86 L235.00,72.22 L235.50,72.59 L236.00,72.95 L236.50,73.32 L237.00,73.69 L237.50,74.06 L238.00,74.43 L238.50,74.81 L239.00,75.19 L239.50,75.57 L240.00,75.95 L240.50,76.33 L241.00,76.72 L241.50,77.10 L242.00,77.49 L242.50,77.89 L243.00,78.28 L243.50,78.68 L244.00,79.07 L244.50,79.47 L245.00,79.88 L245.50,80.28 L246.00,80.69 L246.50,81.09 L247.00,81.51 L247.50,81.92 L248.00,82.33 L248.50,82.75 L249.00,83.17 L249.50,83.59 L250.00,84.02 L250.50,84.44 L251.00,84.87 L251.50,85.30 L252.00,85.73 L252.50,86.17 L253.00,86.61 L253.50,87.05 L254.00,87.49 L254.50,87.93 L255.00,88.38 L255.50,88.83 L256.00,89.28 L256.50,89.74 L257.00,90.19 L257.50,90.65 L258.00,91.11 L258.50,91.58 L259.00,92.04 L259.50,92.51 L260.00,92.99 L260.50,93.46 L261.00,93.94 L261.50,94.41 L262.00,94.90 L262.50,95.38 L263.00,95.87 L263.50,96.36 L264.00,96.85 L264.50,97.34 L265.00,97.84 L265.50,98.34 L266.00,98.84 L266.50,99.35 L267.00,99.85 L267.50,100.36 L268.00,100.88 L268.50,101.39 L269.00,101.91 L269.50,102.43 L270.00,102.96 L270.50,103.48 L271.00,104.01 L271.50,104.54 L272.00,105.08 L272.50,105.62 L273.00,106.16 L273.50,106.70 L274.00,107.25 L274.50,107.80 L275.00,108.35 L275.50,108.91 L276.00,109.47 L276.50,110.03 L277.00,110.59 L277.50,111.16 L278.00,111.73 L278.50,112.30 L279.00,112.88 L279.50,113.46 L280.00,114.04 L280.50,114.63 L281.00,115.21 L281.50,115.81 L282.00,116.40 L282.50,117.00 L283.00,117.60 L283.50,118.21 L284.00,118.81 L284.50,119.42 L285.00,120.04 L285.50,120.66 L286.00,121.28 L286.50,121.90 L287.00,122.53 L287.50,123.16 L288.00,123.79 L288.50,124.43 L289.00,125.07 L289.50,125.71 L290.00,126.36 L290.50,127.01 L291.00,127.67 L291.50,128.33 L292.00,128.99 L292.50,129.65 L293.00,130.32 L293.50,130.99 L294.00,131.67 L294.50,132.35 L295.00,133.03 L295.50,133.72 L296.00,134.41 L296.50,135.10 L297.00,135.80 L297.50,136.50 L298.00,137.20 L298.50,137.91 L299.00,138.62 L299.50,139.34 L300.00,140.06 L300.50,140.78 L301.00,141.51 L301.50,142.24 L302.00,142.98 L302.50,143.72 L303.00,144.46 L303.50,145.21 L304.00,145.96 L304.50,146.71 L305.00,147.47 L305.50,148.24 L306.00,149.00 L306.50,149.77 L307.00,150.55 L307.50,151.33 L308.00,152.11 L308.50,152.90 L309.00,153.69 L309.50,154.49 L310.00,155.29 L310.50,156.09 L311.00,156.90 L311.50,157.71 L312.00,158.53 L312.50,159.35 L313.00,160.18 L313.50,161.01 L314.00,161.84 L314.50,162.68 L315.00,163.53 L315.50,164.38 L316.00,165.23 L316.50,166.09 L317.00,166.95 L317.50,167.81 L318.00,168.69 L318.50,169.56 L319.00,170.44 L319.50,171.33 L320.00,172.22 L320.50,173.11 L321.00,174.01 L321.50,174.91 L322.00,175.82 L322.50,176.74 L323.00,177.65 L323.50,178.58 L324.00,179.51 L324.50,180.44 L325.00,181.38 L325.50,182.32 L326.00,183.27 L326.50,184.22 L327.00,185.18 L327.50,186.14 L328.00,187.11 L328.50,188.08 L329.00,189.06 L329.50,190.05 L330.00,191.03 L330.50,192.03 L331.00,193.03 L331.50,194.03 L332.00,195.04 L332.50,196.06 L333.00,197.08 L333.50,198.11 L334.00,199.14 L334.50,200.18 L335.00,201.22 L335.50,202.27 L336.00,203.32 L336.50,204.38 L337.00,205.44 L337.50,206.52 L338.00,207.59 L338.50,208.67 L339.00,209.76 L339.50,210.86 L340.00,211.95 L340.50,213.06 L341.00,214.17 L341.50,215.29 L342.00,216.41 L342.50,217.54 L343.00,218.68 L343.50,219.82 L344.00,220.96 L344.50,222.12 L345.00,223.28 L345.50,224.44 L346.00,225.61 L346.50,226.79 L347.00,227.97 L347.50,229.16 L348.00,230.36 L348.50,231.56 L349.00,232.77 L349.50,233.99 L350.00,235.21 L350.50,236.44 L351.00,237.68 L351.50,238.92 L352.00,240.17 L352.50,241.42 L353.00,242.68 L353.50,243.95 L354.00,245.23 L354.50,246.51 L355.00,247.80 L355.50,249.09 L356.00,250.39 L356.50,251.70 L357.00,253.02 L357.50,254.34 L358.00,255.67 L358.50,257.01 L359.00,258.35 L359.50,259.71 L360.00,261.06 L360.50,262.43 L361.00,263.80 L361.50,265.18 L362.00,266.57 L362.50,267.97 L363.00,269.37 L363.50,270.78 L364.00,272.20 L364.50,273.62 L365.00,275.05 L365.50,276.50 L366.00,277.94 L366.50,279.40 L367.00,280.86 L367.50,282.33 L368.00,283.81 L368.50,285.30 L369.00,286.79 L369.50,288.30 L370.00,289.81 L370.50,291.32 L371.00,292.85 L371.50,294.39 L372.00,295.93 L372.50,297.48 L373.00,299.04 L373.50,300.61 L374.00,302.18 L374.42,303.50" fill="none" stroke="#921616" stroke-width="1.55" stroke-dasharray="5.3 2.4"/>
<rect x="45.5" y="3.7" width="435.0" height="299.8" fill="none" stroke="#1c1c1c" stroke-width="1.3"/>
<path d="M54.20,303.5v-4.0 M54.20,3.7v4.0 M62.90,303.5v-4.0 M62.90,3.7v4.0 M71.60,303.5v-4.0 M71.60,3.7v4.0 M80.30,303.5v-4.0 M80.30,3.7v4.0 M89.00,303.5v-6.5 M89.00,3.7v6.5 M97.70,303.5v-4.0 M97.70,3.7v4.0 M106.40,303.5v-4.0 M106.40,3.7v4.0 M115.10,303.5v-4.0 M115.10,3.7v4.0 M123.80,303.5v-4.0 M123.80,3.7v4.0 M132.50,303.5v-6.5 M132.50,3.7v6.5 M141.20,303.5v-4.0 M141.20,3.7v4.0 M149.90,303.5v-4.0 M149.90,3.7v4.0 M158.60,303.5v-4.0 M158.60,3.7v4.0 M167.30,303.5v-4.0 M167.30,3.7v4.0 M176.00,303.5v-6.5 M176.00,3.7v6.5 M184.70,303.5v-4.0 M184.70,3.7v4.0 M193.40,303.5v-4.0 M193.40,3.7v4.0 M202.10,303.5v-4.0 M202.10,3.7v4.0 M210.80,303.5v-4.0 M210.80,3.7v4.0 M219.50,303.5v-6.5 M219.50,3.7v6.5 M228.20,303.5v-4.0 M228.20,3.7v4.0 M236.90,303.5v-4.0 M236.90,3.7v4.0 M245.60,303.5v-4.0 M245.60,3.7v4.0 M254.30,303.5v-4.0 M254.30,3.7v4.0 M263.00,303.5v-6.5 M263.00,3.7v6.5 M271.70,303.5v-4.0 M271.70,3.7v4.0 M280.40,303.5v-4.0 M280.40,3.7v4.0 M289.10,303.5v-4.0 M289.10,3.7v4.0 M297.80,303.5v-4.0 M297.80,3.7v4.0 M306.50,303.5v-6.5 M306.50,3.7v6.5 M315.20,303.5v-4.0 M315.20,3.7v4.0 M323.90,303.5v-4.0 M323.90,3.7v4.0 M332.60,303.5v-4.0 M332.60,3.7v4.0 M341.30,303.5v-4.0 M341.30,3.7v4.0 M350.00,303.5v-6.5 M350.00,3.7v6.5 M358.70,303.5v-4.0 M358.70,3.7v4.0 M367.40,303.5v-4.0 M367.40,3.7v4.0 M376.10,303.5v-4.0 M376.10,3.7v4.0 M384.80,303.5v-4.0 M384.80,3.7v4.0 M393.50,303.5v-6.5 M393.50,3.7v6.5 M402.20,303.5v-4.0 M402.20,3.7v4.0 M410.90,303.5v-4.0 M410.90,3.7v4.0 M419.60,303.5v-4.0 M419.60,3.7v4.0 M428.30,303.5v-4.0 M428.30,3.7v4.0 M437.00,303.5v-6.5 M437.00,3.7v6.5 M445.70,303.5v-4.0 M445.70,3.7v4.0 M454.40,303.5v-4.0 M454.40,3.7v4.0 M463.10,303.5v-4.0 M463.10,3.7v4.0 M471.80,303.5v-4.0 M471.80,3.7v4.0 M45.5,23.69h4.0 M480.5,23.69h-4.0 M45.5,43.67h4.0 M480.5,43.67h-4.0 M45.5,63.66h4.0 M480.5,63.66h-4.0 M45.5,83.65h4.0 M480.5,83.65h-4.0 M45.5,103.63h6.5 M480.5,103.63h-6.5 M45.5,123.62h4.0 M480.5,123.62h-4.0 M45.5,143.61h4.0 M480.5,143.61h-4.0 M45.5,163.59h4.0 M480.5,163.59h-4.0 M45.5,183.58h4.0 M480.5,183.58h-4.0 M45.5,203.57h6.5 M480.5,203.57h-6.5 M45.5,223.55h4.0 M480.5,223.55h-4.0 M45.5,243.54h4.0 M480.5,243.54h-4.0 M45.5,263.53h4.0 M480.5,263.53h-4.0 M45.5,283.51h4.0 M480.5,283.51h-4.0" stroke="#1c1c1c" stroke-width="1.2" fill="none"/>
<text x="45.5" y="319.9" font-size="11.5" text-anchor="middle">-1.5</text>
<text x="89.0" y="319.9" font-size="11.5" text-anchor="middle">-1.4</text>
<text x="132.5" y="319.9" font-size="11.5" text-anchor="middle">-1.3</text>
<text x="176.0" y="319.9" font-size="11.5" text-anchor="middle">-1.2</text>
<text x="219.5" y="319.9" font-size="11.5" text-anchor="middle">-1.1</text>
<text x="263.0" y="319.9" font-size="11.5" text-anchor="middle">-1.0</text>
<text x="306.5" y="319.9" font-size="11.5" text-anchor="middle">-0.9</text>
<text x="350.0" y="319.9" font-size="11.5" text-anchor="middle">-0.8</text>
<text x="393.5" y="319.9" font-size="11.5" text-anchor="middle">-0.7</text>
<text x="437.0" y="319.9" font-size="11.5" text-anchor="middle">-0.6</text>
<text x="480.5" y="319.9" font-size="11.5" text-anchor="middle">-0.5</text>
<text x="40" y="8.7" font-size="11.5" text-anchor="end">0.0</text>
<text x="40" y="108.6" font-size="11.5" text-anchor="end">-0.5</text>
<text x="40" y="208.6" font-size="11.5" text-anchor="end">-1.0</text>
<text x="40" y="308.5" font-size="11.5" text-anchor="end">-1.5</text>
<text x="259.1" y="340.4" font-size="12.9">log Fourier Frequency (s km</text>
<text x="428.6" y="334.6" font-size="9.5">-1</text>
<text x="438.6" y="340.4" font-size="12.9">)</text>
<text transform="translate(9.9,155.8) rotate(-90)" font-size="13.2" text-anchor="middle">log Fourier Amplitude (A)</text>
<text x="316.5" y="86.9" font-size="9.7">Star and model</text>
<text x="316.5" y="103.2" font-size="9.7">from Figure 8</text>
<text x="183.8" y="184.8" font-size="9.7">Gaussian model</text>
<text x="185.9" y="203.4" font-size="10.3">&#950;</text>
<text x="191.8" y="205.9" font-size="7.5">G</text>
<text x="200.8" y="203.2" font-size="9.7">= 3.28 km s</text>
<text x="255.1" y="199" font-size="7.5">-1</text>
<line x1="349.7" y1="108.3" x2="328.07" y2="137.37" stroke="#000" stroke-width="1.4"/><path d="M321.5,146.2 L325.26,135.29 L330.87,139.46 Z" fill="#000"/>
<line x1="271.7" y1="183.6" x2="305.17" y2="169.40" stroke="#000" stroke-width="1.4"/><path d="M315.3,165.1 L306.54,172.62 L303.81,166.17 Z" fill="#000"/>
</svg></body></html>
